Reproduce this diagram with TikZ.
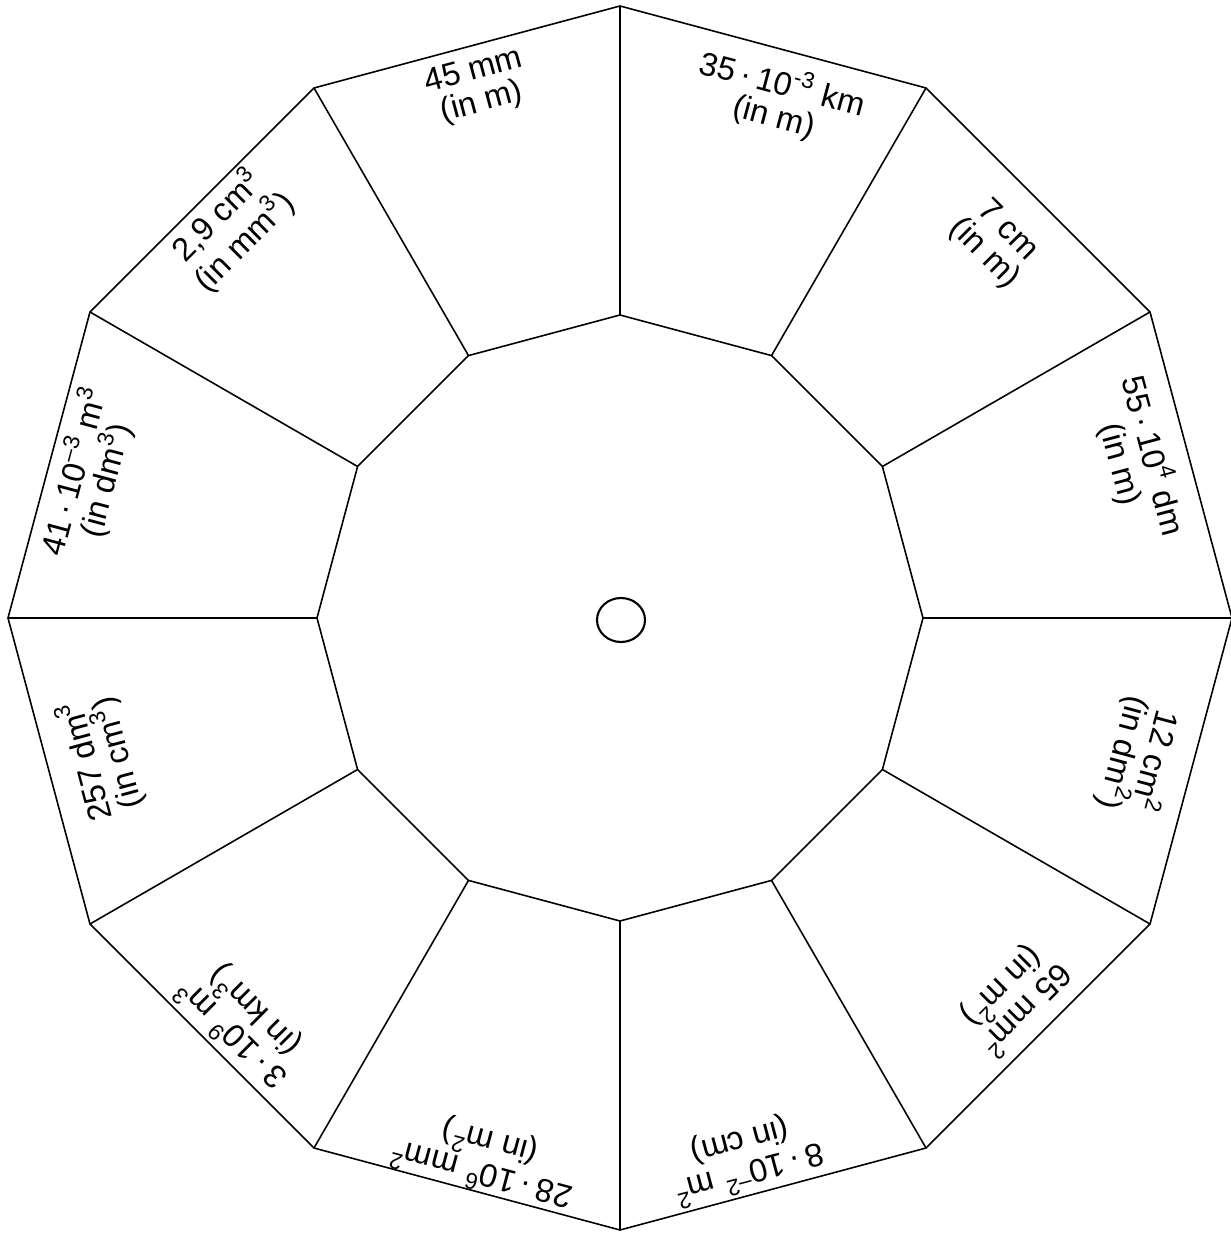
\documentclass[tikz,border=0pt]{standalone}
\usepackage{fontspec}
\setmainfont{Liberation Sans}
\usetikzlibrary{calc}

\begin{document}
\begin{tikzpicture}[
    font=\fontsize{9.3}{9.2}\selectfont,
    rim/.style={draw, line width=0.45pt},
    hole/.style={draw, line width=0.6pt},
    lbl/.style={align=center, inner sep=0pt},
  ]
  \useasboundingbox (-6.20,-6.15) rectangle (6.11,6.18);

  %% -- corners of the two dodecagons --
  \foreach \k in {0,...,11} {
    \coordinate (o\k) at (90-30*\k:6.12);
    \coordinate (i\k) at (90-30*\k:3.03);
  }

  %% -- rims and spokes --
  \draw[rim] (o0) \foreach \k in {1,...,11} { -- (o\k) } -- cycle;
  \draw[rim] (i0) \foreach \k in {1,...,11} { -- (i\k) } -- cycle;
  \foreach \k in {0,...,11}
    \draw[rim] (i\k) -- (o\k);

  %% -- centre hole --
  \coordinate (hub) at (0.01,-0.02);
  \draw[hole] (hub) ellipse (0.24 and 0.22);

  %% -- sector labels --
  \foreach \s/\a/\r/\txt in {
      105/105/5.49/{45 mm\\(in m)},
      75/73/5.42/{35\,·\,10\textsuperscript{-3} km\\(in m)},
      45/45/5.31/{7 cm\\(in m)},
      15/17/5.41/{55\,·\,10\textsuperscript{4} dm\\(in m)},
      -15/-15/5.38/{12 cm\textsuperscript{2}\\(in dm\textsuperscript{2})},
      -45/-44/5.48/{65 mm\textsuperscript{2}\\(in m\textsuperscript{2})},
      -75/-77/5.54/{8\,·\,10\textsuperscript{--2} m\textsuperscript{2}\\(in cm)},
      -105/-104/5.57/{28\,·\,10\textsuperscript{6} mm\textsuperscript{2}\\(in m\textsuperscript{2})},
      -135/-133/5.53/{3\,·\,10\textsuperscript{9} m\textsuperscript{3}\\(in km\textsuperscript{3})},
      195/195/5.37/{257 dm\textsuperscript{3}\\(in cm\textsuperscript{3})},
      165/165/5.49/{41\,·\,10\textsuperscript{--3} m\textsuperscript{3}\\(in dm\textsuperscript{3})},
      135/135/5.51/{2,9 cm\textsuperscript{3}\\(in mm\textsuperscript{3})}}
    \node[lbl, rotate=\s-90] (lbl\s) at (\a:\r) {\txt};

\end{tikzpicture}
\end{document}
